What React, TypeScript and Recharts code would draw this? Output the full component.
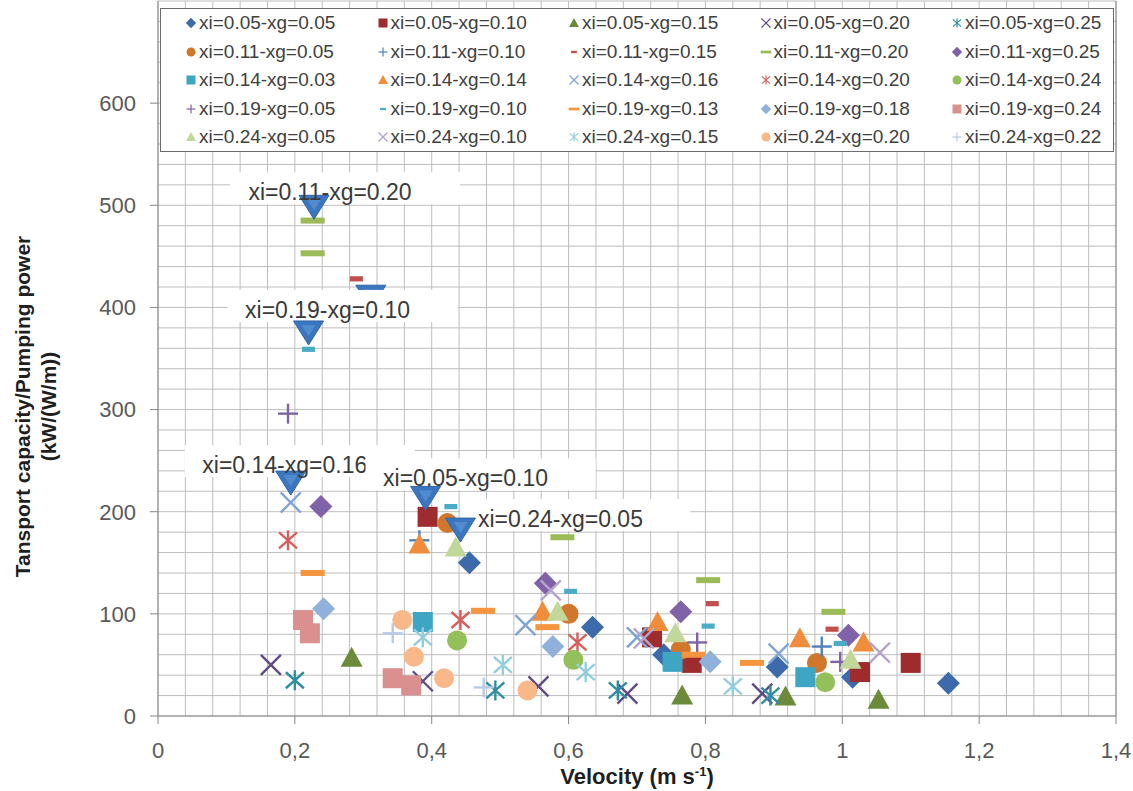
import React from 'react';
import { ScatterChart, Scatter, XAxis, YAxis, CartesianGrid, Legend, ReferenceLine } from 'recharts';

const FONT = "'Liberation Sans', Arial, sans-serif";

// [velocity (m/s), transport capacity / pumping power] per series
const xi005xg005 = [[0.455, 150], [0.635, 87], [0.739, 60], [0.905, 48], [1.015, 38], [1.155, 32]];
const xi005xg010 = [[0.394, 195], [0.722, 77], [0.78, 52], [1.026, 43], [1.1, 52]];
const xi005xg015 = [[0.283, 57], [0.766, 20], [0.917, 19], [1.053, 16]];
const xi005xg020 = [[0.165, 50], [0.387, 34], [0.556, 29], [0.686, 22], [0.883, 22]];
const xi005xg025 = [[0.2, 35], [0.493, 25], [0.672, 25], [0.895, 20]];
const xi011xg005 = [[0.423, 189], [0.6, 100], [0.764, 65], [0.963, 52]];
const xi011xg010 = [[0.382, 172], [0.97, 68]];
const xi011xg015 = [[0.29, 428], [0.47, 190], [0.81, 110], [0.985, 85]];
const xi011xg020 = [[0.226, 485], [0.226, 453], [0.591, 175], [0.804, 133], [0.987, 102]];
const xi011xg025 = [[0.238, 205], [0.566, 130], [0.764, 102], [1.009, 79]];
const xi014xg003 = [[0.387, 92], [0.752, 53], [0.946, 38]];
const xi014xg014 = [[0.382, 168], [0.562, 102], [0.73, 92], [0.938, 76], [1.031, 72]];
const xi014xg016 = [[0.194, 209], [0.537, 89], [0.7, 77], [0.907, 61]];
const xi014xg020 = [[0.19, 172], [0.442, 94], [0.613, 72]];
const xi014xg024 = [[0.437, 74], [0.607, 55], [0.975, 33]];
const xi019xg005 = [[0.19, 296], [0.788, 72], [0.997, 53]];
const xi019xg010 = [[0.22, 359], [0.428, 205], [0.603, 122], [0.804, 88], [0.997, 71]];
const xi019xg013 = [[0.226, 140], [0.475, 103], [0.569, 87], [0.783, 60], [0.868, 52]];
const xi019xg018 = [[0.242, 105], [0.577, 68], [0.807, 53]];
const xi019xg024 = [[0.212, 94], [0.222, 81], [0.343, 37], [0.37, 30]];
const xi024xg005 = [[0.435, 165], [0.584, 102], [0.756, 81], [1.012, 55]];
const xi024xg010 = [[0.574, 123], [0.71, 76], [1.055, 62]];
const xi024xg015 = [[0.387, 77], [0.504, 50], [0.625, 43], [0.84, 29]];
const xi024xg020 = [[0.357, 94], [0.374, 58], [0.418, 37], [0.54, 25]];
const xi024xg022 = [[0.343, 81], [0.476, 28]];

const seriesNames = [
  'xi=0.05-xg=0.05', 'xi=0.05-xg=0.10', 'xi=0.05-xg=0.15', 'xi=0.05-xg=0.20', 'xi=0.05-xg=0.25',
  'xi=0.11-xg=0.05', 'xi=0.11-xg=0.10', 'xi=0.11-xg=0.15', 'xi=0.11-xg=0.20', 'xi=0.11-xg=0.25',
  'xi=0.14-xg=0.03', 'xi=0.14-xg=0.14', 'xi=0.14-xg=0.16', 'xi=0.14-xg=0.20', 'xi=0.14-xg=0.24',
  'xi=0.19-xg=0.05', 'xi=0.19-xg=0.10', 'xi=0.19-xg=0.13', 'xi=0.19-xg=0.18', 'xi=0.19-xg=0.24',
  'xi=0.24-xg=0.05', 'xi=0.24-xg=0.10', 'xi=0.24-xg=0.15', 'xi=0.24-xg=0.20', 'xi=0.24-xg=0.22',
];

const seriesPoints = [
  xi005xg005, xi005xg010, xi005xg015, xi005xg020, xi005xg025,
  xi011xg005, xi011xg010, xi011xg015, xi011xg020, xi011xg025,
  xi014xg003, xi014xg014, xi014xg016, xi014xg020, xi014xg024,
  xi019xg005, xi019xg010, xi019xg013, xi019xg018, xi019xg024,
  xi024xg005, xi024xg010, xi024xg015, xi024xg020, xi024xg022,
];

// highlighted maxima (blue down-triangles) and their callouts
const peakPoints = [[0.311, 410], [0.228, 498], [0.22, 375], [0.194, 228], [0.391, 213], [0.442, 182]];
const peakLabels = ['', 'xi=0.11-xg=0.20', 'xi=0.19-xg=0.10', 'xi=0.14-xg=0.16', 'xi=0.05-xg=0.10', 'xi=0.24-xg=0.05'];

const velocityTicks = [0, 0.2, 0.4, 0.6, 0.8, 1, 1.2, 1.4];
const ratioTicks = [0, 100, 200, 300, 400, 500, 600];

const markerKinds = ['diamond', 'square', 'triangle', 'x', 'star', 'circle', 'plus', 'dash', 'longdash'];
const markerColors = [
  '#3C6AAB', '#9E2B2E', '#6C8B3A', '#5E4B85', '#2F8CA3',
  '#D0772C', '#4F81BD', '#C0504D', '#9BBB59', '#7F62A8',
  '#3EA5C4', '#F08D3C', '#7FA3D4', '#D4605C', '#93C05A',
  '#8064A2', '#4BACC6', '#F59540', '#8FB1DC', '#D9908E',
  '#C2D89A', '#B4A4CC', '#93CDDD', '#F9B88A', '#B7CBE6',
];

// callout text centre relative to the triangle, px
const calloutOffset: Record<string, [number, number]> = {
  'xi=0.11-xg=0.20': [16, -15],
  'xi=0.19-xg=0.10': [19, -23],
  'xi=0.14-xg=0.16': [-6, -18],
  'xi=0.05-xg=0.10': [40, -20],
  'xi=0.24-xg=0.05': [100, -11],
};

const Marker = ({ kind, cx, cy, color, k = 1 }: any) => {
  const s = 10 * k;
  const sw = Math.max(1.2, 2.4 * k);
  switch (kind) {
    case 'diamond':
      return <polygon points={`${cx},${cy - s * 1.15} ${cx + s * 1.15},${cy} ${cx},${cy + s * 1.15} ${cx - s * 1.15},${cy}`} fill={color} />;
    case 'square':
      return <rect x={cx - s} y={cy - s} width={2 * s} height={2 * s} fill={color} />;
    case 'triangle':
      return <polygon points={`${cx},${cy - s * 1.1} ${cx + s * 1.1},${cy + s * 0.9} ${cx - s * 1.1},${cy + s * 0.9}`} fill={color} />;
    case 'x':
      return (
        <g stroke={color} strokeWidth={sw}>
          <line x1={cx - s} y1={cy - s} x2={cx + s} y2={cy + s} />
          <line x1={cx - s} y1={cy + s} x2={cx + s} y2={cy - s} />
        </g>
      );
    case 'star':
      return (
        <g stroke={color} strokeWidth={sw}>
          <line x1={cx - s * 0.9} y1={cy - s * 0.8} x2={cx + s * 0.9} y2={cy + s * 0.8} />
          <line x1={cx - s * 0.9} y1={cy + s * 0.8} x2={cx + s * 0.9} y2={cy - s * 0.8} />
          <line x1={cx} y1={cy - s} x2={cx} y2={cy + s} />
        </g>
      );
    case 'circle':
      return <circle cx={cx} cy={cy} r={s} fill={color} />;
    case 'plus':
      return (
        <g stroke={color} strokeWidth={sw}>
          <line x1={cx - s} y1={cy} x2={cx + s} y2={cy} />
          <line x1={cx} y1={cy - s} x2={cx} y2={cy + s} />
        </g>
      );
    case 'dash':
      return <rect x={cx - 6.5 * k} y={cy - 2.6 * k} width={13 * k} height={5.2 * k} fill={color} />;
    default:
      return <rect x={cx - 12 * k} y={cy - 3 * k} width={24 * k} height={6 * k} fill={color} />;
  }
};

const Peak = ({ cx, cy, payload }: any) => {
  const label = payload.label;
  const [dx, dy] = calloutOffset[label] || [0, 0];
  const tx = cx + dx;
  const ty = cy + dy;
  return (
    <g>
      {label && <rect x={tx - 100} y={ty - 20} width={230} height={32} fill="#fff" />}
      <polygon points={`${cx - 15},${cy - 12} ${cx + 15},${cy - 12} ${cx},${cy + 12}`} fill="#3B77C0" stroke="#2E63A6" strokeWidth={1} />
      <polygon points={`${cx - 7},${cy - 8} ${cx + 7},${cy - 8} ${cx},${cy + 3}`} fill="#5B93D3" opacity={0.7} />
      {label && (
        <text x={tx} y={ty} textAnchor="middle" dominantBaseline="central" fontSize={23} fill="#3a3a3a" fontFamily={FONT}>
          {label}
        </text>
      )}
    </g>
  );
};

const LegendBox = () => (
  <div
    style={{
      position: 'relative', width: 954, height: 144, background: '#fff', border: '1px solid #6b6b6b',
      boxSizing: 'border-box', fontFamily: FONT, fontSize: 19, color: '#404040',
    }}
  >
    {seriesNames.map((name, i) => {
      const row = Math.floor(i / 5);
      const col = i % 5;
      return (
        <div
          key={name}
          style={{
            position: 'absolute', left: 22 + col * 191.5, top: 2 + row * 28.5, height: 24,
            display: 'flex', alignItems: 'center', whiteSpace: 'nowrap', lineHeight: '24px',
          }}
        >
          <svg width={16} height={16} style={{ display: 'block' }}>
            <Marker kind={markerKinds[i % 9]} cx={8} cy={8} color={markerColors[i]} k={0.45} />
          </svg>
          <span>{name}</span>
        </div>
      );
    })}
  </div>
);

const XTitle = ({ viewBox }: any) => (
  <text x={viewBox.x + viewBox.width / 2} y={viewBox.y + 68} textAnchor="middle" fontSize={22} fontWeight="bold" fill="#1f1f1f" fontFamily={FONT}>
    Velocity (m s<tspan dy={-8} fontSize={13}>-1</tspan><tspan dy={8}>)</tspan>
  </text>
);

const YTitle = ({ viewBox }: any) => {
  const cy = viewBox.y + viewBox.height / 2 + 48;
  const common = { textAnchor: 'middle' as const, dominantBaseline: 'central' as const, fontSize: 21, fontWeight: 'bold', fill: '#1f1f1f', fontFamily: FONT };
  return (
    <g>
      <text transform={`translate(${viewBox.x - 76}, ${cy}) rotate(-90)`} {...common}>Tansport capacity/Pumping power</text>
      <text transform={`translate(${viewBox.x - 50}, ${cy}) rotate(-90)`} {...common}>(kW/(W/m))</text>
    </g>
  );
};

const minorVertical = ({ offset }: any) => Array.from({ length: 36 }, (_, i) => offset.left + (offset.width * i) / 35);
const minorHorizontal = ({ offset }: any) => Array.from({ length: 36 }, (_, i) => offset.top + (offset.height * i) / 35);

export default function App() {
  const tickStyle = { fill: '#595959', fontSize: 22, fontFamily: FONT };
  return (
    <div style={{ position: 'absolute', left: 0, top: 0, width: 1133, height: 791, background: '#fff' }}>
      <ScatterChart width={1133} height={791} margin={{ top: 1, right: 17, bottom: 15, left: 98 }}>
        <CartesianGrid stroke="#BDBDBD" verticalCoordinatesGenerator={minorVertical} horizontalCoordinatesGenerator={minorHorizontal} />
        <XAxis
          type="number" dataKey="x" domain={[0, 1.4]} ticks={velocityTicks} height={60}
          tick={tickStyle} tickSize={8} tickMargin={18} stroke="#868686"
          tickFormatter={(v: number) => String(v).replace('.', ',')}
          label={{ content: XTitle }}
        />
        <YAxis
          type="number" dataKey="y" domain={[0, 700]} ticks={ratioTicks} width={60}
          tick={tickStyle} tickSize={8} tickMargin={14} stroke="#868686"
          label={{ content: YTitle }}
        />
        <ReferenceLine x={1.4} stroke="#868686" />
        <Legend layout="vertical" align="center" verticalAlign="middle" content={LegendBox} wrapperStyle={{ left: 160, top: 8, width: 954, height: 144 }} />
        {seriesPoints.map((pts, i) => (
          <Scatter
            key={seriesNames[i]}
            name={seriesNames[i]}
            data={pts.map(([x, y]) => ({ x, y }))}
            isAnimationActive={false}
            shape={(p: any) => <Marker kind={markerKinds[i % 9]} cx={p.cx} cy={p.cy} color={markerColors[i]} />}
          />
        ))}
        <Scatter
          name="peaks"
          data={peakPoints.map(([x, y], i) => ({ x, y, label: peakLabels[i] }))}
          isAnimationActive={false}
          shape={Peak}
        />
      </ScatterChart>
    </div>
  );
}
